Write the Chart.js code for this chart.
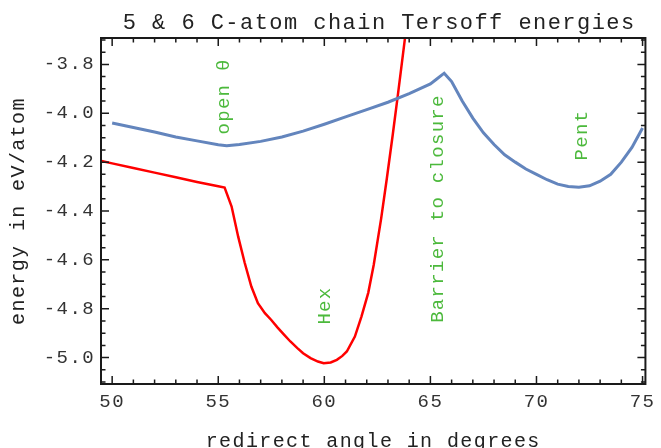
<!DOCTYPE html>
<html>
<head>
<meta charset="utf-8">
<script src="https://cdn.jsdelivr.net/npm/chart.js@4.4.0/dist/chart.umd.min.js"></script>
<style>
  html, body { margin: 0; padding: 0; background: #fff; }
  #chart { display: block; }
</style>
</head>
<body>
<canvas id="chart" width="661" height="448"></canvas>
<script>
// Tersoff energies of 5 and 6 C-atom chains vs redirect angle

const chartTitle = '5 & 6 C-atom chain Tersoff energies';
const xAxisTitle = 'redirect angle in degrees';
const yAxisTitle = 'energy in eV/atom';

const xTicks = [50, 55, 60, 65, 70, 75];
const yTicks = [-3.8, -4.0, -4.2, -4.4, -4.6, -4.8, -5.0];

// blue curve (open chain -> pentagon)
const blueAngles = [50, 51, 52, 53, 54, 55, 55.4, 56, 57, 58, 59, 60, 61, 62, 63, 64, 65, 65.3, 65.65,
  66, 66.5, 67, 67.5, 68, 68.5, 69, 69.5, 70, 70.5, 71, 71.5, 72, 72.5, 73, 73.5, 74, 74.5, 75];
const blueEnergy = [-4.04, -4.058, -4.077, -4.097, -4.113, -4.129, -4.133, -4.128, -4.115, -4.097, -4.073,
  -4.045, -4.015, -3.985, -3.955, -3.92, -3.88, -3.86, -3.836,
  -3.87, -3.95, -4.02, -4.08, -4.128, -4.17, -4.2, -4.228, -4.25, -4.272, -4.29, -4.3, -4.303,
  -4.297, -4.278, -4.25, -4.2, -4.14, -4.06];

// red curve (hexagon)
const redAngles = [49.5, 50, 51, 52, 53, 54, 55, 55.3, 55.63, 55.94, 56.25, 56.56, 56.87, 57.2, 57.49,
  57.8, 58.11, 58.4, 58.73, 59.0, 59.35, 59.7, 59.97, 60.3, 60.59, 60.85, 61.06, 61.44, 61.75, 62.07,
  62.33, 62.68, 62.95, 63.23, 63.46, 63.77, 64.2];
const redEnergy = [-4.195, -4.205, -4.224, -4.243, -4.262, -4.281, -4.299, -4.304, -4.382, -4.505, -4.613,
  -4.709, -4.777, -4.818, -4.845, -4.877, -4.907, -4.934, -4.961, -4.982, -5.002, -5.016, -5.023,
  -5.02, -5.009, -4.993, -4.975, -4.914, -4.832, -4.735, -4.62, -4.43, -4.265, -4.085, -3.93,
  -3.715, -3.41];

// rotated green notes
const noteTexts = ['open θ', 'Hex', 'Barrier to closure', 'Pent'];
const noteAngles = [55.29, 60.05, 65.35, 72.14];
const noteEnergy = [-3.931, -4.787, -4.39, -4.089];

const mono = 'Liberation Mono';

const frameAndNotes = {
  id: 'frameAndNotes',
  beforeDraw(chart) {
    chart.ctx.letterSpacing = '1.4px';
  },
  beforeDatasetsDraw(chart) {
    chart.ctx.letterSpacing = '0px';
  },
  afterDraw(chart) {
    const { ctx, chartArea: a, scales: { x, y } } = chart;
    ctx.save();

    // frame with inward ticks
    ctx.strokeStyle = '#1a1a1a';
    ctx.lineWidth = 2;
    ctx.strokeRect(a.left, a.top, a.right - a.left, a.bottom - a.top);
    ctx.lineWidth = 1.5;
    ctx.beginPath();
    for (let v = 50; v <= 75; v++) {
      const px = x.getPixelForValue(v);
      const len = v % 5 === 0 ? 8 : 4.5;
      ctx.moveTo(px, a.bottom); ctx.lineTo(px, a.bottom - len);
      ctx.moveTo(px, a.top); ctx.lineTo(px, a.top + len);
    }
    for (let k = 74; k <= 102; k++) {
      const py = y.getPixelForValue(-k / 20);
      const len = k % 4 === 0 ? 8 : 4.5;
      ctx.moveTo(a.left, py); ctx.lineTo(a.left + len, py);
      ctx.moveTo(a.right, py); ctx.lineTo(a.right - len, py);
    }
    ctx.stroke();

    // title
    ctx.letterSpacing = '1.45px';
    ctx.font = '22px "' + mono + '"';
    ctx.fillStyle = '#222';
    ctx.textAlign = 'center';
    ctx.textBaseline = 'alphabetic';
    ctx.fillText(chartTitle, (a.left + a.right) / 2 + 6, 28.5);

    // green notes
    ctx.letterSpacing = '1.3px';
    ctx.font = '19px "' + mono + '"';
    ctx.fillStyle = '#4cb93c';
    ctx.textBaseline = 'middle';
    noteTexts.forEach((t, i) => {
      ctx.save();
      ctx.translate(x.getPixelForValue(noteAngles[i]), y.getPixelForValue(noteEnergy[i]));
      ctx.rotate(-Math.PI / 2);
      ctx.fillText(t, 0, 0);
      ctx.restore();
    });
    ctx.restore();
  }
};

const ctx = document.getElementById('chart').getContext('2d');

new Chart(ctx, {
  type: 'line',
  data: {
    datasets: [
      {
        label: 'open chain',
        data: blueAngles.map((a, i) => ({ x: a, y: blueEnergy[i] })),
        borderColor: '#6385bd',
        borderWidth: 3,
        pointRadius: 0,
        tension: 0,
        fill: false
      },
      {
        label: 'hexagon',
        data: redAngles.map((a, i) => ({ x: a, y: redEnergy[i] })),
        borderColor: '#ff0000',
        borderWidth: 2.5,
        pointRadius: 0,
        tension: 0,
        fill: false
      }
    ]
  },
  options: {
    responsive: false,
    animation: false,
    devicePixelRatio: 1,
    layout: { padding: { left: 0, right: 8, top: 38, bottom: 0 } },
    plugins: {
      legend: { display: false },
      title: { display: false },
      tooltip: { enabled: false }
    },
    scales: {
      x: {
        type: 'linear',
        min: 49.474,
        max: 75.135,
        grid: { display: false, drawTicks: false },
        border: { display: false },
        afterBuildTicks: (s) => { s.ticks = xTicks.map((v) => ({ value: v })); },
        afterFit: (s) => { s.height = 64; },
        ticks: {
          padding: 7,
          color: '#333',
          autoSkip: false,
          maxRotation: 0,
          font: { family: mono, size: 19 },
          callback: (v) => String(v)
        },
        title: {
          display: true,
          text: xAxisTitle,
          color: '#222',
          font: { family: mono, size: 20, lineHeight: 1 },
          padding: { top: 0, bottom: -4 }
        }
      },
      y: {
        type: 'linear',
        min: -5.108,
        max: -3.692,
        grid: { display: false, drawTicks: false },
        border: { display: false },
        afterBuildTicks: (s) => { s.ticks = yTicks.map((v) => ({ value: v })); },
        afterFit: (s) => { s.width = 101; },
        ticks: {
          padding: 6,
          color: '#333',
          font: { family: mono, size: 19 },
          callback: (v) => v.toFixed(1)
        },
        title: {
          display: true,
          text: yAxisTitle,
          color: '#222',
          font: { family: mono, size: 20, lineHeight: 1 },
          padding: { top: 9, bottom: 0 }
        }
      }
    }
  },
  plugins: [frameAndNotes]
});
</script>
</body>
</html>
